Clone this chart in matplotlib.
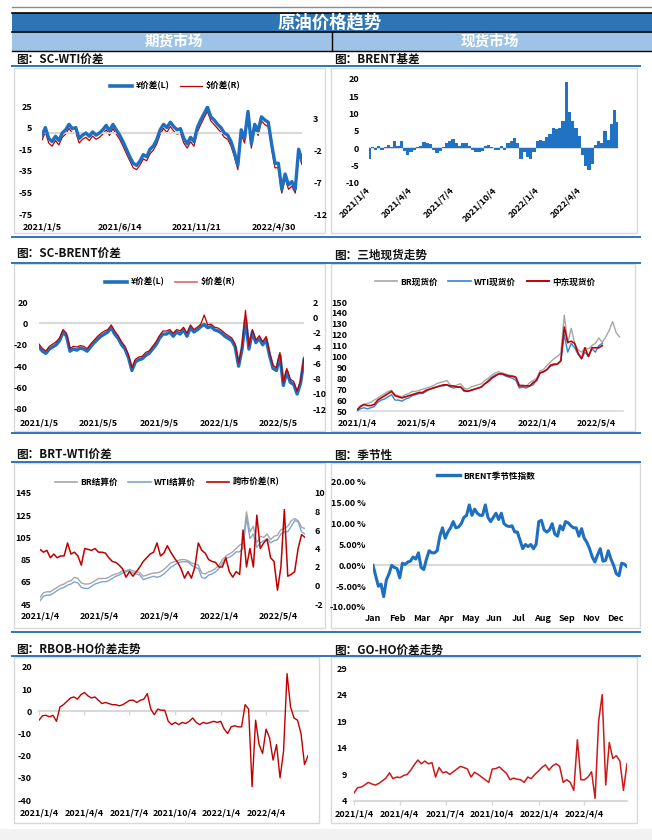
import numpy as np
import pandas as pd
import matplotlib
matplotlib.use('Agg')
import matplotlib.pyplot as plt
import matplotlib.dates as mdates
from matplotlib.patches import Rectangle
from matplotlib.lines import Line2D

plt.rcParams['font.family'] = ['Noto Sans CJK SC', 'DejaVu Sans']
plt.rcParams['axes.unicode_minus'] = False

# ---------------- data ----------------
dates = pd.date_range('2021-01-04', periods=78, freq='7D')

sc_wti_cny = [-2, 5, -5, -8, -3, -7, 0, 3, 8, 4, 5, -5, -2,
              0, -3, 1, -2, 0, 3, 7, 2, 8, 3, -2, -8, -15,
              -22, -28, -30, -26, -20, -22, -15, -12, -6, 3, 8, 5, 10,
              6, 3, 4, -5, -10, -4, -8, 5, 12, 18, 24, 15, 12,
              8, 5, 0, -2, -8, -18, -30, 3, -5, 20, -10, 8, 2,
              15, 12, 10, -10, -28, -28, -52, -38, -48, -45, -52, -15, -25]
sc_wti_usd = [-0.3, 0.9, -0.8, -1.3, -0.4, -1.1, 0.1, 0.6, 1.5, 0.8, 0.9, -0.8, -0.2,
              0.1, -0.4, 0.3, -0.2, 0.1, 0.6, 1.3, 0.4, 1.5, 0.6, -0.2, -1.3, -2.5,
              -3.6, -4.7, -5.0, -4.3, -3.3, -3.6, -2.5, -1.9, -0.9, 0.6, 1.5, 0.9, 1.8,
              1.1, 0.6, 0.8, -0.8, -1.6, -0.6, -1.3, 0.9, 2.1, 3.2, 4.2, 2.7, 2.1,
              1.5, 0.9, 0.1, -0.2, -1.3, -3.0, -5.0, 0.6, -0.8, 3.5, -1.6, 1.5, 0.4,
              2.7, 2.1, 1.8, -1.6, -4.7, -4.7, -8.7, -6.4, -8.1, -7.6, -8.7, -2.5, -4.2]
sc_wti_ticks = ['2021-01-05', '2021-06-14', '2021-11-21', '2022-04-30']
sc_wti_ticklabels = ['2021/1/5', '2021/6/14', '2021/11/21', '2022/4/30']

brent_basis = [-3.0, 0.4, -0.5, 0.6, -0.4, 0.5, 0.9, 0.5, 2.2, 0.7, 2.0, -0.8, -1.8,
               -1.2, -0.6, 0.3, 0.8, 1.8, 1.5, 1.2, -0.4, -1.4, -0.8, 0.5, 1.5, 2.0,
               2.6, 1.4, 0.6, 1.6, 1.4, 0.8, -0.6, -1.0, -1.2, -0.8, 0.6, 1.0, 0.5,
               -0.5, -0.6, 0.8, -0.5, 1.5, 2.2, 3.0, 1.5, -3.0, -1.0, -2.5, -3.2, -1.0,
               2.0, 2.5, 2.0, 3.2, 4.0, 6.0, 5.5, 6.0, 8.0, 19.0, 10.5, 8.0, 5.8,
               3.5, -2.0, -5.0, -6.2, -4.5, 1.0, 2.0, 1.5, 5.0, 2.5, 7.0, 11.0, 7.5]

sc_brent_cny = [-22, -26, -28, -24, -22, -20, -16, -8, -12, -26, -24, -25, -23,
                -24, -26, -22, -18, -15, -12, -10, -8, -4, -10, -14, -20, -24,
                -32, -44, -36, -34, -33, -30, -28, -24, -20, -14, -10, -10, -8,
                -12, -8, -10, -6, -12, -4, -8, -6, -3, -1, -4, -3, -6,
                -7, -9, -12, -14, -16, -22, -40, -24, 4, -24, -8, -18, -14,
                -20, -15, -30, -42, -44, -30, -58, -45, -55, -57, -66, -56, -34]
sc_brent_usd = [-3.5, -4.1, -4.4, -3.8, -3.5, -3.2, -2.7, -1.6, -2.1, -4.1, -3.8, -3.9, -3.7,
                -3.8, -4.1, -3.5, -3.0, -2.5, -2.1, -1.8, -1.6, -1.0, -1.8, -2.4, -3.2, -3.8,
                -4.9, -6.6, -5.5, -5.2, -5.1, -4.6, -4.4, -3.8, -3.2, -2.4, -1.8, -1.8, -1.6,
                -2.1, -1.6, -1.8, -1.3, -2.1, -1.0, -1.6, -1.3, -0.9, 0.3, -1.0, -0.9, -1.3,
                -1.4, -1.7, -2.1, -2.4, -2.7, -3.5, -6.0, -3.8, 0.9, -3.8, -1.6, -3.0, -2.4,
                -3.2, -2.5, -4.6, -6.3, -6.6, -4.6, -8.6, -6.7, -8.1, -8.4, -9.7, -8.3, -5.2]
sc_brent_ticks = ['2021-01-05', '2021-05-05', '2021-09-05', '2022-01-05', '2022-05-05']
sc_brent_ticklabels = ['2021/1/5', '2021/5/5', '2021/9/5', '2022/1/5', '2022/5/5']

nan = np.nan
br_spot = [51, 55, 56, 57, 58, 60, 62, 64, 66, 68, 69, 65, 64,
           63, 65, 66, 68, 68, 69, 70, 71, 72, 73, 75, 76, 77,
           78, 74, 72, 74, 75, 71, 70, 72, 73, 74, 75, 78, 80,
           83, 85, 86, 85, 84, 83, 82, 80, 74, 74, 73, 76, 78,
           80, 87, 88, 92, 95, 98, 100, 103, 138, 112, 126, 112, 106,
           104, 108, 107, 110, 112, 117, 113, 118, 124, 132, 122, 118, nan]
wti_spot = [50, 52, 53, 52, 53, 54, 58, 60, 61, 63, 65, 60, 60,
            59, 61, 62, 64, 65, 66, 66, 68, 70, 71, 72, 73, 73,
            74, 72, 71, 72, 72, 68, 68, 69, 70, 71, 72, 75, 78,
            81, 83, 84, 84, 82, 81, 80, 78, 71, 72, 71, 73, 74,
            79, 85, 86, 88, 91, 92, 93, 96, 120, 104, 112, 108, 102,
            98, 104, 100, 107, 104, 110, 112, nan, nan, nan, nan, nan, nan]
me_spot = [51, 54, 56, 55, 55, 56, 60, 62, 64, 66, 68, 64, 63,
           62, 63, 64, 65, 66, 67, 67, 69, 70, 71, 72, 73, 74,
           74, 73, 73, 72, 72, 69, 68, 69, 70, 71, 72, 75, 77,
           80, 82, 84, 84, 83, 82, 82, 81, 73, 73, 73, 73, 76,
           78, 85, 86, 88, 92, 93, 93, 96, 127, 113, 114, 112, 103,
           98, 108, 100, 108, 108, 108, 110, nan, nan, nan, nan, nan, nan]
m4_ticks = ['2021-01-04', '2021-05-04', '2021-09-04', '2022-01-04', '2022-05-04']
m4_ticklabels = ['2021/1/4', '2021/5/4', '2021/9/4', '2022/1/4', '2022/5/4']

br_settle = [51, 55, 56, 56, 58, 60, 62, 63, 65, 66, 69, 68, 64,
             63, 63, 64, 66, 68, 68, 68, 69, 71, 72, 73, 75, 75,
             76, 75, 74, 73, 70, 71, 72, 73, 73, 74, 76, 79, 82,
             83, 84, 85, 85, 84, 82, 81, 80, 73, 72, 74, 75, 77,
             80, 85, 88, 90, 92, 95, 98, 100, 128, 110, 115, 100, 106,
             105, 108, 103, 106, 107, 112, 113, 115, 120, 122, 120, 114, 113]
wti_settle = [48, 52, 53, 53, 55, 57, 59, 60, 62, 63, 65, 64, 60,
              59, 59, 61, 63, 64, 65, 65, 66, 68, 70, 71, 73, 74,
              75, 73, 72, 71, 67, 68, 69, 70, 69, 70, 72, 75, 78,
              80, 82, 83, 83, 83, 80, 78, 77, 69, 68, 71, 72, 74,
              77, 82, 86, 87, 89, 92, 92, 95, 123, 104, 108, 96, 100,
              102, 104, 100, 102, 103, 108, 110, 110, 115, 120, 119, 110, 108]
brt_wti_spread = [3.9, 3.6, 3.8, 3.0, 3.4, 3.0, 3.2, 3.2, 4.6, 3.4, 3.6, 3.2, 2.2,
                  4.0, 3.9, 3.8, 4.0, 3.6, 3.6, 3.5, 3.0, 2.6, 2.5, 2.2, 1.8, 0.9,
                  1.5, 1.0, 1.5, 2.0, 2.6, 3.0, 3.4, 3.6, 4.6, 3.2, 3.5, 4.3, 3.6,
                  3.0, 2.5, 1.8, 0.8, 1.5, 0.8, 2.0, 4.6, 3.8, 3.5, 2.8, 2.6, 2.5,
                  2.0, 2.0, 3.0, 1.5, 0.9, 1.5, 1.2, 6.0, 2.0, 4.0, 2.0, 7.6, 4.0,
                  4.6, 5.0, 3.0, 2.6, -0.5, 2.0, 8.2, 1.0, 1.2, 1.5, 4.0, 5.5, 5.2]

season = [0, -2.5, -5, -4.5, -7.5, -3.5, -2, 0, -0.5, -0.8, -3, 0.5, 0.2, 0.8, 1, 2,
          1.5, 3, -0.5, -1, 1.5, 3.5, 3, 3, 3.5, 7, 9, 6.5, 8, 9, 10.5, 9,
          9.2, 10, 11.5, 12, 14.5, 12, 13.5, 12.5, 12, 12, 14.5, 11.5, 10.5, 11.5, 12.5, 11,
          12.5, 10, 9.5, 9.3, 9.5, 8, 8, 6, 4, 5, 4.5, 5, 4, 5, 10.5, 10.8,
          8.5, 8, 8.5, 10, 7.5, 7, 9.5, 8.5, 10.5, 10.2, 9.5, 9, 9, 7, 8.8, 6.5,
          5.5, 4, 2, 0.8, 2.5, 4, 1, 1.2, 3.5, 1.5, 0, -2, -2.5, 0.5, 0.3, -0.3]
months = ['Jan', 'Feb', 'Mar', 'Apr', 'May', 'Jun', 'Jul', 'Aug', 'Sep', 'Nov', 'Dec']
season_ylabels = ['-10.00%', '-5.00%', '0.00%', '5.00%', '10.00 %', '15.00 %', '20.00 %']

rbob_ho = [-4, -2, -1.8, -2.5, -1.8, -4.5, 2.0, 3, 4.5, 6, 6.5, 5.5, 7.5,
           8.5, 7, 6, 6.5, 5, 3.5, 4, 3.5, 3, 3, 2.5, 3, 4,
           5, 5, 4, 5, 5.5, 8, 1, -1.5, 1, 0.5, 0.5, -4.5, -6,
           -5, -6, -5, -5.5, -4.5, -3, -5, -6, -5, -5.5, -5, -4.5, -5,
           -4.5, -8, -10, -7, -6.5, -7, -7, 3, 1, -34, -4, -15, -19,
           -8, -12, -22, -15, -30, -18, 17, 2, -3, -4, -10, -24, -20]
go_ho = [5.5, 6.5, 6.6, 7, 7.5, 7.2, 7, 7.3, 7.8, 8.3, 9.3, 8.2, 8.5,
         8.4, 8.8, 9, 9.8, 10.8, 11.7, 11, 11.5, 11, 11.2, 8.5, 10.3, 9.3,
         9.5, 9, 9.5, 10, 10.5, 10.3, 10, 8.5, 9.4, 9, 8.5, 8, 7.5,
         10, 10.1, 10.4, 9.8, 9.2, 8, 8.3, 8.1, 8, 7.5, 8.5, 8.2, 9,
         9.6, 10.3, 10.8, 9.8, 10.6, 11, 10.5, 7.5, 8, 7.5, 6, 15.5, 8,
         8, 8.5, 9.5, 4.5, 19, 24, 7, 15, 12, 12.5, 11.5, 6, 11]
q_ticks = ['2021-01-04', '2021-04-04', '2021-07-04', '2021-10-04', '2022-01-04', '2022-04-04']
q_ticklabels = ['2021/1/4', '2021/4/4', '2021/7/4', '2021/10/4', '2022/1/4', '2022/4/4']

# ---------------- styles ----------------
BLUE = '#1F6FC0'
RED = '#C00000'
GRAY = '#A6A6A6'
LBLUE = '#7EA6D3'
ZL = '#D9D9D9'
HDR = '#2E75B6'
TFS = 6.5
W, H = 652, 840

fig = plt.figure(figsize=(W / 100, H / 100), dpi=100)
bg = fig.add_axes([0, 0, 1, 1])
bg.set_xlim(0, W)
bg.set_ylim(H, 0)
bg.axis('off')


def pax(x0, y0, x1, y1):
    ax = fig.add_axes([x0 / W, 1 - y1 / H, (x1 - x0) / W, (y1 - y0) / H])
    ax.patch.set_alpha(0)
    for s in ax.spines.values():
        s.set_visible(False)
    return ax


def twin(ax):
    ax2 = ax.twinx()
    ax2.patch.set_alpha(0)
    for s in ax2.spines.values():
        s.set_visible(False)
    return ax2


def yfmt(ax, ticks, pad, labels=None):
    ax.set_yticks(ticks)
    if labels is None:
        labels = ['%g' % t for t in ticks]
    ax.set_yticklabels(labels, fontsize=TFS, fontweight='bold')
    ax.tick_params(axis='y', length=0, pad=pad)


def xfmt(ax, ticks, labels, pad, **kw):
    ax.set_xticks(ticks)
    ax.set_xticklabels(labels, fontsize=TFS, fontweight='bold', **kw)
    ax.tick_params(axis='x', length=0, pad=pad)


def legend(handles, labels, cx, cy, cs=1.2):
    fig.legend(handles, labels, loc='center', bbox_to_anchor=(cx / W, 1 - cy / H),
               bbox_transform=fig.transFigure, ncol=len(handles), frameon=False,
               prop={'size': 6.2, 'weight': 'bold'}, handlelength=2.6,
               columnspacing=cs, handletextpad=0.4, borderpad=0)


def dlim(ax):
    ax.set_xlim(dates[0], dates[-1])


# ---------------- page furniture ----------------
bg.plot([12, 652], [7, 7], color='#8C8C8C', lw=1)
bg.add_patch(Rectangle((12, 13), 640, 19, fc=HDR, ec='none'))
bg.add_patch(Rectangle((12, 32), 640, 19, fc='#9DC3E6', ec='none'))
bg.plot([12, 652], [13, 13], color='black', lw=1.2)
bg.plot([12, 652], [32, 32], color='black', lw=1.2)
bg.plot([12, 652], [51, 51], color='black', lw=1.0)
bg.plot([332, 332], [32, 51], color='black', lw=1.0)
bg.text(330, 22.5, '原油价格趋势', color='white', fontsize=12.5, fontweight='bold',
        ha='center', va='center')
bg.text(174, 42, '期货市场', color='white', fontsize=10.5, fontweight='bold',
        ha='center', va='center')
bg.text(490, 42, '现货市场', color='white', fontsize=10.5, fontweight='bold',
        ha='center', va='center')

for y in [66, 237, 263, 433, 462, 632, 656]:
    bg.plot([12, 640], [y, y], color=HDR, lw=1.4)

boxes = [(14, 68, 325, 233), (331, 68, 637, 233),
         (14, 264, 325, 431), (331, 264, 635, 431),
         (14, 463, 325, 628), (331, 463, 640, 628),
         (14, 657, 319, 823), (331, 657, 637, 823)]
for x0, y0, x1, y1 in boxes:
    bg.add_patch(Rectangle((x0, y0), x1 - x0, y1 - y0, fc='white', ec=ZL, lw=1))

bg.add_patch(Rectangle((0, 829), W, 11, fc='#F2F2F2', ec='none'))

titles = [(16, 60, '图：SC-WTI价差'), (334, 60, '图：BRENT基差'),
          (16, 254, '图：SC-BRENT价差'), (334, 255, '图：三地现货走势'),
          (16, 455, '图：BRT-WTI价差'), (334, 455, '图：季节性'),
          (16, 649, '图：RBOB-HO价差走势'), (334, 650, '图：GO-HO价差走势')]
for x, y, t in titles:
    bg.text(x, y, t, fontsize=8.4, fontweight='bold', ha='left', va='center', color='#111111')

# ---------------- P1 SC-WTI ----------------
ax = pax(42, 106, 302, 214)
ax.axhline(0, color=ZL, lw=1.5, zorder=1)
ax.plot(dates, sc_wti_cny, color=BLUE, lw=2.4, zorder=2)
ax.set_ylim(-75, 25)
yfmt(ax, np.arange(-75, 26, 20), 7)
dlim(ax)
xfmt(ax, pd.to_datetime(sc_wti_ticks), sc_wti_ticklabels, 6)
ax2 = twin(ax)
ax2.plot(dates, sc_wti_usd, color=RED, lw=0.9)
ax2.set_ylim(-12, 5.05)
yfmt(ax2, [-12, -7, -2, 3], 8)
ax.set_zorder(ax2.get_zorder() + 1)   # blue line drawn over the red one
legend([Line2D([], [], color=BLUE, lw=2.6), Line2D([], [], color=RED, lw=0.9)],
       ['¥价差(L)', '$价差(R)'], 175, 86)

# ---------------- P2 BRENT basis ----------------
ax = pax(369, 79, 618, 183)
ax.axhline(0, color=ZL, lw=1.5, zorder=1)
ax.bar(dates, brent_basis, width=7, color='#1F72C4', zorder=2, linewidth=0)
ax.set_ylim(-10, 20)
yfmt(ax, np.arange(-10, 21, 5), 7)
dlim(ax)
xfmt(ax, pd.to_datetime(q_ticks), q_ticklabels, 4, rotation=45, ha='right',
     va='center', rotation_mode='anchor')

# ---------------- P3 SC-BRENT ----------------
ax = pax(39, 302, 304, 409)
ax.axhline(0, color=ZL, lw=1.5, zorder=1)
ax.plot(dates, sc_brent_cny, color=BLUE, lw=2.4, zorder=2)
ax.set_ylim(-80, 20)
yfmt(ax, np.arange(-80, 21, 20), 8)
dlim(ax)
xfmt(ax, pd.to_datetime(sc_brent_ticks), sc_brent_ticklabels, 7)
ax2 = twin(ax)
ax2.plot(dates, sc_brent_usd, color=RED, lw=0.9, zorder=3)
ax2.set_ylim(-12, 2)
yfmt(ax2, np.arange(-12, 3, 2), 6)
legend([Line2D([], [], color=BLUE, lw=2.6), Line2D([], [], color='#E06666', lw=1.2)],
       ['¥价差(L)', '$价差(R)'], 170, 282)

# ---------------- P4 三地现货 ----------------
ax = pax(357, 302, 623, 411)
ax.spines['bottom'].set_visible(True)
ax.spines['bottom'].set_color(ZL)
ax.spines['bottom'].set_linewidth(1.2)
ax.plot(dates, br_spot, color=GRAY, lw=1.0, zorder=2)
ax.plot(dates, wti_spot, color='#2E86D6', lw=1.0, zorder=3)
ax.plot(dates, me_spot, color=RED, lw=1.2, zorder=4)
ax.set_ylim(50, 150)
yfmt(ax, np.arange(50, 151, 10), 7)
dlim(ax)
xfmt(ax, pd.to_datetime(m4_ticks), m4_ticklabels, 5.5)
legend([Line2D([], [], color=GRAY, lw=1.2), Line2D([], [], color='#2E86D6', lw=1.2),
        Line2D([], [], color=RED, lw=1.4)],
       ['BR现货价', 'WTI现货价', '中东现货价'], 485, 282)

# ---------------- P5 BRT-WTI ----------------
ax = pax(40, 493, 305, 604)
ax.plot(dates, br_settle, color=GRAY, lw=1.0, zorder=2)
ax.plot(dates, wti_settle, color=LBLUE, lw=1.0, zorder=3)
ax.set_ylim(45, 145)
yfmt(ax, np.arange(45, 146, 20), 6)
dlim(ax)
xfmt(ax, pd.to_datetime(m4_ticks), m4_ticklabels, 5.5)
ax2 = twin(ax)
ax2.plot(dates, brt_wti_spread, color=RED, lw=1.1, zorder=4)
ax2.set_ylim(-2, 10)
yfmt(ax2, np.arange(-2, 11, 2), 7)
legend([Line2D([], [], color=GRAY, lw=1.2), Line2D([], [], color=LBLUE, lw=1.2),
        Line2D([], [], color=RED, lw=1.2)],
       ['BR结算价', 'WTI结算价', '跨市价差(R)'], 167, 482)

# ---------------- P6 季节性 ----------------
ax = pax(373, 482, 627, 607)
sx = np.arange(len(season))
ax.axhline(0, color=ZL, lw=1.5, zorder=1)
ax.plot(sx, season, color=BLUE, lw=2.2, zorder=2)
ax.set_ylim(-10, 20)
ax.set_xlim(0, len(season) - 1)
yfmt(ax, np.arange(-10, 21, 5), 5, season_ylabels)
step = (len(season) - 1) / 10.47
xfmt(ax, np.arange(len(months)) * step, months, 5)
legend([Line2D([], [], color=BLUE, lw=2.4)], ['BRENT季节性指数'], 486, 476)

# ---------------- P7 RBOB-HO ----------------
ax = pax(39, 667, 308, 800)
ax.spines['bottom'].set_visible(True)
ax.spines['bottom'].set_position(('data', 0))
ax.spines['bottom'].set_color(ZL)
ax.spines['bottom'].set_linewidth(1.5)
ax.plot(dates, rbob_ho, color=RED, lw=1.0, zorder=3)
ax.set_ylim(-40, 20)
yfmt(ax, np.arange(-40, 21, 10), 5)
dlim(ax)
qt = pd.to_datetime(q_ticks)
ax.set_xticks(qt)
ax.tick_params(axis='x', length=3, width=1, color=ZL, labelbottom=False)
for d, lab in zip(qt, q_ticklabels):
    ax.annotate(lab, xy=(mdates.date2num(d), 0), xycoords=('data', 'axes fraction'),
                xytext=(0, -6), textcoords='offset points', ha='center', va='top',
                fontsize=TFS, fontweight='bold')

# ---------------- P8 GO-HO ----------------
ax = pax(354, 668, 627, 801)
ax.spines['bottom'].set_visible(True)
ax.spines['bottom'].set_color(ZL)
ax.spines['bottom'].set_linewidth(1.5)
ax.plot(dates, go_ho, color='#CC1A1A', lw=1.1, zorder=3)
ax.set_ylim(4, 29)
yfmt(ax, np.arange(4, 30, 5), 5)
dlim(ax)
xfmt(ax, pd.to_datetime(q_ticks), q_ticklabels, 3)
ax.tick_params(axis='x', length=3, width=1, color=ZL)

fig.savefig('out.png', dpi=100)
